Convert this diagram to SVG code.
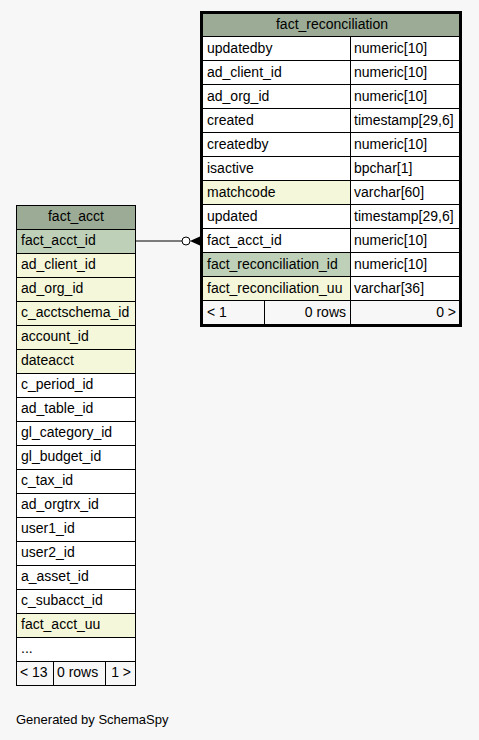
<svg xmlns="http://www.w3.org/2000/svg" width="479" height="740" viewBox="0 0 479 740">
<style>
text{font-family:"Liberation Sans",Arial,sans-serif;font-size:14px;fill:#000}
.c{stroke:#000;stroke-width:1}
.w{fill:#fff}
.h{fill:#9bab96}
.pk{fill:#bed1b8}
.ix{fill:#f4f7da}
.ft{fill:#f7f7f7}
.mid{text-anchor:middle}
.end{text-anchor:end}
</style>
<rect width="479" height="740" fill="#f7f7f7"/>
<g id="connectors">
<line x1="136" y1="241" x2="182" y2="241" stroke="#000"/>
<circle cx="186" cy="241" r="4" fill="#fff" stroke="#000"/>
<polygon points="190,241 201,236 201,246" fill="#000"/>
</g>
<g id="fact_reconciliation">
<rect class="h" x="202" y="13" width="258" height="23"/>
<text class="mid" x="332" y="29">fact_reconciliation</text>
<g class="c">
<rect class="w" x="202.5" y="36.5" width="148" height="24"/><rect class="w" x="350.5" y="36.5" width="110" height="24"/>
<rect class="w" x="202.5" y="60.5" width="148" height="24"/><rect class="w" x="350.5" y="60.5" width="110" height="24"/>
<rect class="w" x="202.5" y="84.5" width="148" height="24"/><rect class="w" x="350.5" y="84.5" width="110" height="24"/>
<rect class="w" x="202.5" y="108.5" width="148" height="24"/><rect class="w" x="350.5" y="108.5" width="110" height="24"/>
<rect class="w" x="202.5" y="132.5" width="148" height="24"/><rect class="w" x="350.5" y="132.5" width="110" height="24"/>
<rect class="w" x="202.5" y="156.5" width="148" height="24"/><rect class="w" x="350.5" y="156.5" width="110" height="24"/>
<rect class="ix" x="202.5" y="180.5" width="148" height="24"/><rect class="w" x="350.5" y="180.5" width="110" height="24"/>
<rect class="w" x="202.5" y="204.5" width="148" height="24"/><rect class="w" x="350.5" y="204.5" width="110" height="24"/>
<rect class="w" x="202.5" y="228.5" width="148" height="24"/><rect class="w" x="350.5" y="228.5" width="110" height="24"/>
<rect class="pk" x="202.5" y="252.5" width="148" height="24"/><rect class="w" x="350.5" y="252.5" width="110" height="24"/>
<rect class="ix" x="202.5" y="276.5" width="148" height="24"/><rect class="w" x="350.5" y="276.5" width="110" height="24"/>
<rect class="ft" x="202.5" y="300.5" width="62" height="24"/><rect class="ft" x="264.5" y="300.5" width="86" height="24"/><rect class="ft" x="350.5" y="300.5" width="110" height="24"/>
</g>
<rect x="201.5" y="12.5" width="259" height="313" fill="none" stroke="#000" stroke-width="3"/>
<text x="207" y="53">updatedby</text><text x="354" y="53">numeric[10]</text>
<text x="207" y="77">ad_client_id</text><text x="354" y="77">numeric[10]</text>
<text x="207" y="101">ad_org_id</text><text x="354" y="101">numeric[10]</text>
<text x="207" y="125">created</text><text x="354" y="125">timestamp[29,6]</text>
<text x="207" y="149">createdby</text><text x="354" y="149">numeric[10]</text>
<text x="207" y="173">isactive</text><text x="354" y="173">bpchar[1]</text>
<text x="207" y="197">matchcode</text><text x="354" y="197">varchar[60]</text>
<text x="207" y="221">updated</text><text x="354" y="221">timestamp[29,6]</text>
<text x="207" y="245">fact_acct_id</text><text x="354" y="245">numeric[10]</text>
<text x="207" y="269">fact_reconciliation_id</text><text x="354" y="269">numeric[10]</text>
<text x="207" y="293">fact_reconciliation_uu</text><text x="354" y="293">varchar[36]</text>
<text x="207" y="317">&lt; 1</text><text class="end" x="346" y="317">0 rows</text><text class="end" x="456" y="317">0 &gt;</text>
</g>
<g id="fact_acct">
<g class="c">
<rect class="h" x="16.5" y="205.5" width="119" height="24"/>
<rect class="pk" x="16.5" y="229.5" width="119" height="24"/>
<rect class="ix" x="16.5" y="253.5" width="119" height="24"/>
<rect class="ix" x="16.5" y="277.5" width="119" height="24"/>
<rect class="ix" x="16.5" y="301.5" width="119" height="24"/>
<rect class="ix" x="16.5" y="325.5" width="119" height="24"/>
<rect class="ix" x="16.5" y="349.5" width="119" height="24"/>
<rect class="w" x="16.5" y="373.5" width="119" height="24"/>
<rect class="w" x="16.5" y="397.5" width="119" height="24"/>
<rect class="w" x="16.5" y="421.5" width="119" height="24"/>
<rect class="w" x="16.5" y="445.5" width="119" height="24"/>
<rect class="w" x="16.5" y="469.5" width="119" height="24"/>
<rect class="w" x="16.5" y="493.5" width="119" height="24"/>
<rect class="w" x="16.5" y="517.5" width="119" height="24"/>
<rect class="w" x="16.5" y="541.5" width="119" height="24"/>
<rect class="w" x="16.5" y="565.5" width="119" height="24"/>
<rect class="w" x="16.5" y="589.5" width="119" height="24"/>
<rect class="ix" x="16.5" y="613.5" width="119" height="24"/>
<rect class="w" x="16.5" y="637.5" width="119" height="24"/>
<rect class="ft" x="16.5" y="661.5" width="37" height="24"/><rect class="ft" x="53.5" y="661.5" width="52" height="24"/><rect class="ft" x="105.5" y="661.5" width="30" height="24"/>
</g>
<text class="mid" x="76" y="221">fact_acct</text>
<text x="21" y="245">fact_acct_id</text>
<text x="21" y="269">ad_client_id</text>
<text x="21" y="293">ad_org_id</text>
<text x="21" y="317">c_acctschema_id</text>
<text x="21" y="341">account_id</text>
<text x="21" y="365">dateacct</text>
<text x="21" y="389">c_period_id</text>
<text x="21" y="413">ad_table_id</text>
<text x="21" y="437">gl_category_id</text>
<text x="21" y="461">gl_budget_id</text>
<text x="21" y="485">c_tax_id</text>
<text x="21" y="509">ad_orgtrx_id</text>
<text x="21" y="533">user1_id</text>
<text x="21" y="557">user2_id</text>
<text x="21" y="581">a_asset_id</text>
<text x="21" y="605">c_subacct_id</text>
<text x="21" y="629">fact_acct_uu</text>
<text x="21" y="653">...</text>
<text x="20" y="677">&lt; 13</text><text x="57" y="677">0 rows</text><text class="end" x="131" y="677">1 &gt;</text>
</g>
<text x="16" y="724" style="font-size:13px">Generated by SchemaSpy</text>
</svg>
